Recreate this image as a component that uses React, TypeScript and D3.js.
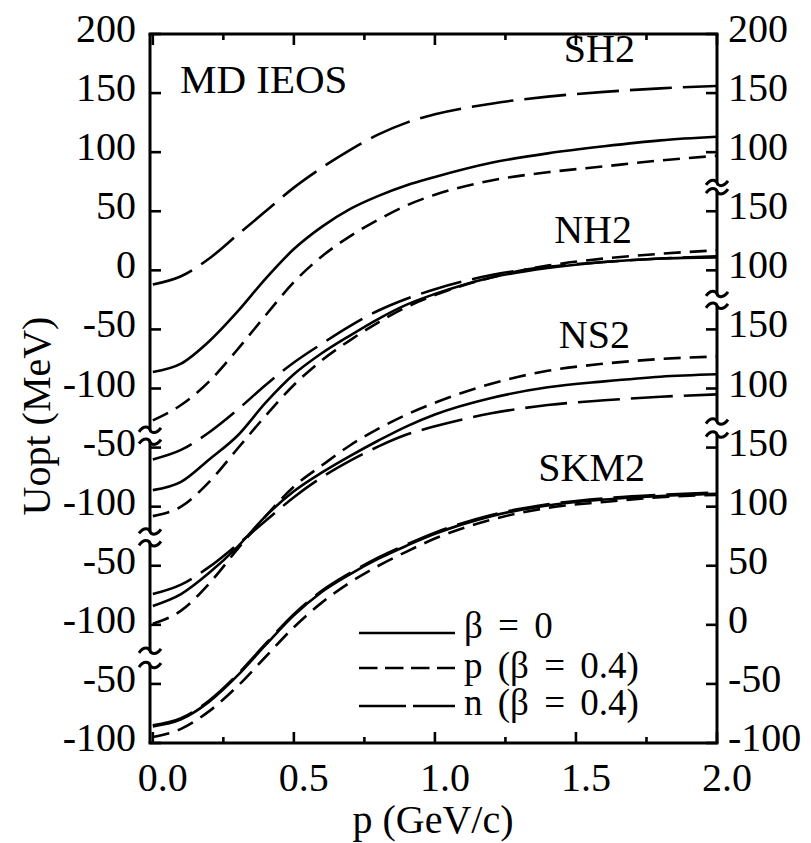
import React from 'react';
import * as d3 from 'd3';

// momentum grid (GeV/c)
const momenta = [0, 0.1, 0.2, 0.3, 0.4, 0.5, 0.6, 0.7, 0.8, 0.9, 1.0, 1.2, 1.4, 1.6, 1.8, 2.0];

// Uopt (MeV): sym = beta 0, prot = p (beta 0.4), neut = n (beta 0.4)
const sh2Sym = [-86, -79, -60, -35, -7, 18, 37, 52, 63, 72, 79, 91, 99, 105, 110, 113];
const sh2Prot = [-127, -114, -94, -67, -38, -10, 12, 29, 43, 55, 64, 76, 83, 88, 93, 97];
const sh2Neut = [-12, -5, 10, 30, 50, 70, 87, 102, 115, 125, 132, 141, 147, 151, 154, 156];

const nh2Sym = [-86, -79, -60, -40, -12, 12, 30, 45, 59, 71, 80, 94, 102, 107, 110, 111];
const nh2Prot = [-108, -100, -79, -51, -23, 3, 24, 41, 56, 69, 79, 94, 104, 110, 114, 117];
const nh2Neut = [-60, -52, -37, -18, 3, 22, 38, 53, 66, 76, 84, 96, 103, 107, 110, 112];

const ns2Sym = [-84, -74, -56, -34, -8, 13, 29, 43, 56, 68, 78, 92, 101, 106, 110, 112];
const ns2Prot = [-99, -88, -65, -36, -8, 17, 35, 52, 66, 78, 88, 104, 115, 121, 125, 127];
const ns2Neut = [-74, -66, -51, -32, -12, 8, 25, 39, 51, 61, 68, 79, 86, 90, 93, 95];

const skm2Sym = [-86, -80, -65, -43, -17, 8, 28, 43, 56, 67, 77, 92, 101, 106, 109, 111];
const skm2Prot = [-95, -88, -73, -52, -27, -2, 19, 36, 50, 62, 73, 89, 99, 104, 108, 110];
const skm2Neut = [-85, -79, -64, -42, -16, 9, 29, 44, 57, 68, 78, 93, 102, 107, 110, 112];

const groupNames = ['SH2', 'NH2', 'NS2', 'SKM2'];
const groupShift = [0, 100, 200, 300]; // vertical stacking of the four panels (MeV)
const groupSeries = [
  [sh2Sym, sh2Prot, sh2Neut],
  [nh2Sym, nh2Prot, nh2Neut],
  [ns2Sym, ns2Prot, ns2Neut],
  [skm2Sym, skm2Prot, skm2Neut],
];

const xTicks = [0, 0.5, 1.0, 1.5, 2.0];
const xMinorTicks = [0.25, 0.75, 1.25, 1.75];
const leftTicks = [
  [200, 150, 100, 50, 0, -50, -100],
  [-50, -100],
  [-50, -100],
  [-50, -100],
];
const rightTicks = [
  [200, 150, 100],
  [150, 100],
  [150, 100],
  [150, 100, 50, 0, -50, -100],
];
// axis segment extents (MeV, in each panel's own units)
const leftRanges = [[200, -135], [-45, -121], [-31, -122], [-34, -100]];
const rightRanges = [[200, 74], [167, 80], [170, 72], [161, -100]];

const legendLabels = ['β = 0', 'p (β = 0.4)', 'n (β = 0.4)'];

const W = 811;
const H = 843;
const L = 150, R = 717, T = 34, B = 743;
const FONT = '"Liberation Serif", "Times New Roman", serif';
const dashes = [null, '17,9', '42,11'];
const legendDashes = [null, '18.5,7.5', '47,7'];

export default function App() {
  const x = d3.scaleLinear().domain([-0.01, 2.0]).range([L, R]);
  const y = d3.scaleLinear().domain([-400, 200]).range([B, T]);
  const yg = (g: number, v: number) => y(v - groupShift[g]);

  const tilde = (cx: number, cy: number, key: string) => (
    <path
      key={key}
      d={`M${cx - 11},${cy + 2} C${cx - 6},${cy - 5} ${cx - 1},${cy - 3} ${cx},${cy} S${cx + 6},${cy + 5} ${cx + 11},${cy - 2}`}
      fill="none"
      stroke="#000"
      strokeWidth={3}
    />
  );

  const curves: JSX.Element[] = [];
  groupSeries.forEach((series, g) => {
    series.forEach((vals, k) => {
      const line = d3
        .line<number>()
        .x((_, i) => x(momenta[i]))
        .y((v) => yg(g, v))
        .curve(d3.curveMonotoneX);
      curves.push(
        <path
          key={`c${g}-${k}`}
          d={line(vals) || ''}
          fill="none"
          stroke="#000"
          strokeWidth={2.6}
          strokeDasharray={dashes[k] || undefined}
        />
      );
    });
  });

  const axisEls: JSX.Element[] = [];
  leftRanges.forEach(([a, b], g) => {
    const y0 = yg(g, a), y1 = yg(g, b);
    axisEls.push(<line key={`la${g}`} x1={L} x2={L} y1={y0} y2={y1} stroke="#000" strokeWidth={3} />);
    if (g > 0) axisEls.push(tilde(L, y0, `lt0${g}`));
    if (g < leftRanges.length - 1) axisEls.push(tilde(L, y1, `lt1${g}`));
    leftTicks[g].forEach((t) => {
      const ty = yg(g, t);
      axisEls.push(<line key={`lk${g}${t}`} x1={L} x2={L + 11} y1={ty} y2={ty} stroke="#000" strokeWidth={2.6} />);
      axisEls.push(
        <text key={`ll${g}${t}`} x={136} y={ty + 8} textAnchor="end" fontSize={40} fontFamily={FONT}>
          {t}
        </text>
      );
    });
  });
  rightRanges.forEach(([a, b], g) => {
    const y0 = yg(g, a), y1 = yg(g, b);
    axisEls.push(<line key={`ra${g}`} x1={R} x2={R} y1={y0} y2={y1} stroke="#000" strokeWidth={3} />);
    if (g > 0) axisEls.push(tilde(R, y0, `rt0${g}`));
    if (g < rightRanges.length - 1) axisEls.push(tilde(R, y1, `rt1${g}`));
    rightTicks[g].forEach((t) => {
      const ty = yg(g, t);
      axisEls.push(<line key={`rk${g}${t}`} x1={R - 11} x2={R} y1={ty} y2={ty} stroke="#000" strokeWidth={2.6} />);
      axisEls.push(
        <text key={`rl${g}${t}`} x={728} y={ty + 8} textAnchor="start" fontSize={40} fontFamily={FONT}>
          {t}
        </text>
      );
    });
  });

  xTicks.forEach((t) => {
    axisEls.push(<line key={`bx${t}`} x1={x(t)} x2={x(t)} y1={B} y2={B - 11} stroke="#000" strokeWidth={2.6} />);
    axisEls.push(<line key={`tx${t}`} x1={x(t)} x2={x(t)} y1={T} y2={T + 11} stroke="#000" strokeWidth={2.6} />);
    axisEls.push(
      <text key={`xl${t}`} x={x(t) + 10} y={791} textAnchor="middle" fontSize={40} fontFamily={FONT}>
        {t.toFixed(1)}
      </text>
    );
  });
  xMinorTicks.forEach((t) => {
    axisEls.push(<line key={`bm${t}`} x1={x(t)} x2={x(t)} y1={B} y2={B - 6} stroke="#000" strokeWidth={2.6} />);
    axisEls.push(<line key={`tm${t}`} x1={x(t)} x2={x(t)} y1={T} y2={T + 6} stroke="#000" strokeWidth={2.6} />);
  });

  const labelPos = [
    { x: 635, y: 62 },
    { x: 632, y: 243 },
    { x: 630, y: 348 },
    { x: 645, y: 481 },
  ];
  const legendY = [633, 668, 706];
  const legendBase = [638, 678, 715];

  return (
    <svg
      width={W}
      height={H}
      viewBox={`0 0 ${W} ${H}`}
      style={{ position: 'absolute', left: 0, top: 0, background: '#fff' }}
    >
      <rect x={0} y={0} width={W} height={H} fill="#fff" />
      {curves}
      <line x1={L - 1.5} x2={R + 1.5} y1={T} y2={T} stroke="#000" strokeWidth={3} />
      <line x1={L - 1.5} x2={R + 1.5} y1={B} y2={B} stroke="#000" strokeWidth={3} />
      {axisEls}
      <text x={180} y={93} fontSize={41} fontFamily={FONT}>MD IEOS</text>
      {groupNames.map((n, i) => (
        <text key={n} x={labelPos[i].x} y={labelPos[i].y} textAnchor="end" fontSize={40} fontFamily={FONT}>
          {n}
        </text>
      ))}
      {legendLabels.map((lab, i) => (
        <g key={lab}>
          <line
            x1={359}
            x2={455}
            y1={legendY[i]}
            y2={legendY[i]}
            stroke="#000"
            strokeWidth={2.6}
            strokeDasharray={legendDashes[i] || undefined}
          />
          <text
            x={464}
            y={legendBase[i]}
            fontSize={37}
            fontFamily={FONT}
            style={{ wordSpacing: '6px' }}
          >
            {lab}
          </text>
        </g>
      ))}
      <text
        transform={`translate(50,416) rotate(-90)`}
        textAnchor="middle"
        fontSize={40}
        fontFamily={FONT}
      >
        Uopt (MeV)
      </text>
      <text x={433} y={833} textAnchor="middle" fontSize={40} fontFamily={FONT}>
        p (GeV/c)
      </text>
    </svg>
  );
}
